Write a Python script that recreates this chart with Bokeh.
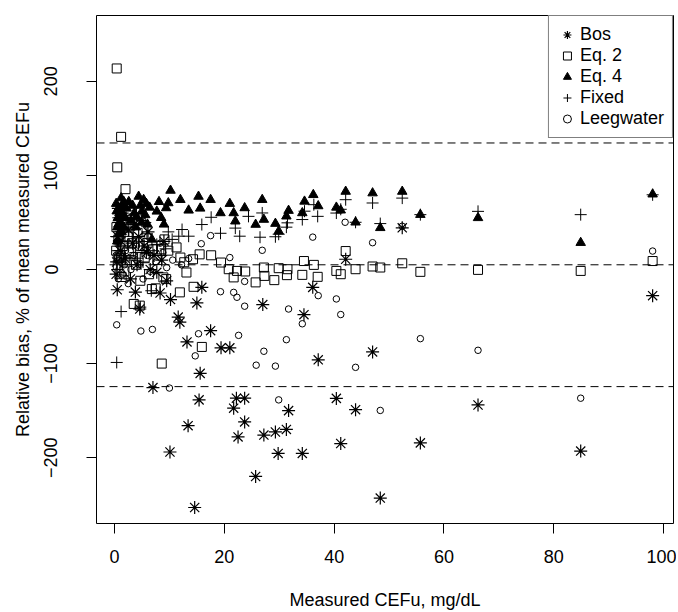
from bokeh.plotting import figure
from bokeh.models import Span, Legend, LegendItem, FixedTicker, Range1d
from bokeh.embed import file_html
from bokeh.resources import INLINE

# ---- data ----
bos_x = [0.4, 0.5, 0.6, 0.8, 1.0, 1.4, 1.9, 2.6, 3.3, 3.8, 4.1, 4.6, 5.0, 5.8, 6.5,
         7.0, 7.7, 8.3, 8.6, 9.5, 10.1, 10.2, 11.6, 11.9, 13.2, 13.4, 14.6, 15.0, 15.4,
         15.6, 15.9, 17.5, 19.4, 21.0, 21.7, 22.2, 22.5, 23.7, 23.7, 25.7, 27.0, 27.2,
         29.3, 29.8, 31.3, 31.7, 34.2, 34.5, 36.1, 37.1, 40.4, 41.2, 42.1, 43.9, 47.0,
         48.4, 52.4, 55.7, 66.2, 84.9, 98.0,
         0.3, 0.7, 1.2, 2.1, 2.9, 3.6, 4.4, 5.4, 6.1, 7.2, 9.0]
bos_y = [8, -21.5, 35, 50, 20, 60, 12, 42, 28, -24, 5, -42, 52, 18, 0,
         -125.5, -3, -25, 10, -12, -194, -32, -50.6, -56, -77, -166, -253, -35.5, -138.6,
         -110.4, -19, -65, -83.3, -83.3, -147.4, -136.8, -178, -136.8, -162, -220, -37.3, -176,
         -172.7, -195.5, -170, -150, -195.5, -48, -19, -96, -137, -185, 10.9, -149, -87.6,
         -243, 44.3, -184.3, -144, -193, -27.8,
         -5, 65, 30, 55, -10, 48, 35, 25, 40, 15, 30]

eq2_x = [0.4, 1.2, 0.5, 2.0, 0.3, 0.6, 0.7, 0.9, 1.1, 1.5, 1.8, 2.4, 2.9, 3.5, 4.2,
         4.6, 4.7, 5.2, 6.0, 6.8, 7.0, 7.5, 8.5, 8.6, 8.9, 9.1, 9.4, 11.3, 11.9, 12.0,
         12.7, 13.1, 14.3, 14.4, 15.5, 15.9, 17.6, 19.4, 20.8, 21.7, 22.3, 23.8, 25.7, 27.2,
         27.3, 29.1, 29.9, 31.5, 31.4, 34.5, 34.2, 36.3, 37.0, 40.4, 41.2, 42.1, 43.9, 47.0,
         48.4, 52.4, 55.7, 66.2, 84.9, 98.0,
         0.35, 0.8, 1.3, 1.7, 2.6, 3.2, 3.9, 5.5, 6.3, 7.8, 9.8]
eq2_y = [213.7, 141, 108.6, 85.4, 20, 5, 32, -5, 15, 25, -2, 35, 10, -36.6, 39,
         -38.4, -12, 25, 28, -20.8, 21.4, -20, 21.4, -100, -8.4, 32, -10.2, 23.5, -24.3, 12.7,
         7.7, -3.2, 10.9, -18.4, 16.1, -82.3, 15.1, 7.4, 0.3, -8.4, -1.5, -2.1, -13.7, 2.1,
         -6.8, -11.3, 1.4, 0.3, -6, 9, -5.7, 4.9, -7.8, -1.5, -5, 19.6, 0.3, 3.2,
         2.1, 6.6, -2.5, -0.4, -1.5, 9,
         45, 12, -8, 40, 18, 28, 5, 12, -5, 10, 20]

eq4_x = [0.4, 0.5, 0.6, 0.8, 0.9, 1.1, 1.2, 1.5, 1.8, 2.2, 3.0, 3.6, 4.4, 4.7, 5.3,
         5.6, 6.0, 6.8, 7.7, 8.5, 9.4, 9.8, 10.2, 12.0, 13.5, 15.3, 15.6, 17.5, 19.3, 21.0,
         21.7, 22.0, 23.7, 25.7, 26.9, 27.2, 29.3, 29.9, 31.3, 31.7, 34.2, 34.6, 36.2, 37.1,
         40.4, 41.2, 42.1, 43.9, 47.0, 48.4, 52.4, 55.7, 66.2, 84.9, 98.0,
         0.3, 0.7, 1.0, 1.4, 2.0, 2.6, 3.3, 4.0, 5.0, 6.4, 8.1, 9.0,
         0.5, 1.3, 1.7, 3.9, 4.9, 5.8]
eq4_y = [62, 45, 55, 38, 60, 50, 76, 58, 44, 65, 52, 60, 77.6, 68, 74.2,
         58, 48, 32, 61.8, 55, 65.4, 70.7, 84, 74.2, 62.9, 77.6, 65, 74.2, 60.1, 70,
         60.1, 51.3, 65.4, 47.8, 74.2, 53.1, 48.8, 40.7, 56.6, 62.6, 60.1, 72.4, 79.4, 67.5,
         66, 63, 82.9, 50.2, 81.2, 44.3, 82.9, 58.3, 54.9, 28.5, 80,
         70, 48, 65, 68, 55, 72, 68, 56, 62, 66, 72, 48,
         30, 40, 72, 45, 50, 70]

fixed_x = [0.4, 0.5, 0.6, 0.8, 1.0, 1.2, 1.3, 1.6, 2.0, 2.5, 3.0, 3.8, 4.5, 4.7, 5.2,
           5.6, 6.7, 7.7, 8.5, 9.3, 10.5, 11.7, 12.3, 13.5, 15.9, 17.6, 19.3, 22.0, 22.8,
           24.4, 26.9, 26.5, 29.3, 29.9, 31.5, 31.3, 34.2, 34.6, 36.3, 37.0, 40.4, 41.2,
           42.1, 43.9, 47.0, 48.4, 52.4, 55.7, 66.2, 84.9, 98.0,
           0.3, 0.7, 1.1, 1.5, 1.9, 2.8, 3.4, 4.2, 5.9, 7.0, 9.8,
           0.9, 2.3, 4.0, 5.0]
fixed_y = [-98.8, 0, 20, 30, 8, -44.7, 15, 40, 12, 25, 45, 18, 30, -40, 8,
           50, -22.6, 26.7, 15, 22, 32, 35.4, 42.5, 35.4, 47.8, 55.5, 38.5, 44, 35.4,
           56.5, 60.1, 34.3, 34.8, 37.5, 49.6, 45, 53.1, 62, 68.9, 56.5, 60, 64,
           74.2, 50.2, 70.7, 48.8, 75.9, 58.3, 61.8, 58.3, 79.4,
           35, 55, 25, 5, 30, 10, 35, 12, 38, 20, 40,
           62, 48, 58, 20]

leeg_x = [0.4, 0.5, 0.8, 1.2, 1.5, 2.0, 3.0, 4.0, 4.8, 5.2, 6.0, 6.9, 7.6, 8.3, 9.5,
          10.0, 10.6, 12.2, 13.5, 14.7, 15.3, 15.8, 17.5, 19.3, 21.0, 21.7, 22.3, 22.6,
          23.7, 23.7, 25.8, 26.9, 27.2, 29.3, 29.9, 31.3, 31.7, 34.2, 36.1, 37.1, 40.4,
          41.2, 42.0, 43.9, 47.0, 48.4, 52.4, 55.7, 66.2, 84.9, 98.0,
          0.3, 0.7, 1.0, 1.8, 2.5, 3.5, 4.5, 5.5, 6.5, 8.8]
leeg_y = [-58.8, 30, 10, 45, -5, 20, 0, 25, -65.4, -10, 15, -63.7, 8, 28, 2,
          -126, 10, 5, 11.6, -91.8, -68.3, 27.4, 36, -23.6, 12.7, -24.3, -29.5, -70,
          -39, -12.7, -101.7, 20.4, -86.9, -102.7, -138.6, -74.6, -42, -57.7, 34.4, -27.8, -31.3,
          -47.9, 50.2, -104, 28.5, -149.8, 46, -73.5, -85.9, -136.8, 19.6,
          15, -10, 35, 5, -15, 15, 5, 30, -2, 18]

bias_mean = 5.0
loa_upper = 134.5
loa_lower = -124.5

series_labels = ["Bos", "Eq. 2", "Eq. 4", "Fixed", "Leegwater"]
x_ticks = [0, 20, 40, 60, 80, 100]
y_ticks = [-200, -100, 0, 100, 200]

FONT = "Liberation Sans"

p = figure(width=676, height=612, output_backend="svg", toolbar_location=None,
           x_range=Range1d(-3.28, 101.8), y_range=Range1d(-270, 270),
           min_border_left=96, min_border_right=3, min_border_top=15, min_border_bottom=85,
           background_fill_color="white", border_fill_color="white")
p.grid.visible = False
p.outline_line_color = "black"
p.outline_line_width = 1

for loc in (loa_upper, bias_mean, loa_lower):
    p.add_layout(Span(location=loc, dimension="width", line_color="black",
                      line_width=1, line_dash="8 5"))

r_bos = p.scatter(bos_x, bos_y, marker="asterisk", size=13, line_color="black", line_width=1.2)
r_eq2 = p.scatter(eq2_x, eq2_y, marker="square", size=9, line_color="black",
                  fill_color=None, line_width=1)
r_eq4 = p.scatter(eq4_x, eq4_y, marker="triangle", size=9.5, line_color="black",
                  fill_color="black", line_width=1)
r_fix = p.scatter(fixed_x, fixed_y, marker="cross", size=12, line_color="black", line_width=1)
r_lee = p.scatter(leeg_x, leeg_y, marker="circle", size=6.5, line_color="black",
                  fill_color=None, line_width=1)

for ax, ticks, bounds in ((p.xaxis[0], x_ticks, (0, 100)), (p.yaxis[0], y_ticks, (-200, 200))):
    ax.ticker = FixedTicker(ticks=ticks)
    ax.bounds = bounds
    ax.minor_tick_line_color = None
    ax.major_tick_in = 0
    ax.major_tick_out = 10
    ax.axis_line_color = "black"
    ax.major_tick_line_color = "black"
    ax.major_label_text_font = FONT
    ax.major_label_text_font_size = "18px"
    ax.major_label_text_color = "black"
    ax.axis_label_text_font = FONT
    ax.axis_label_text_font_size = "18px"
    ax.axis_label_text_font_style = "normal"
    ax.axis_label_text_color = "black"

p.xaxis.axis_label = "Measured CEFu, mg/dL"
p.yaxis.axis_label = "Relative bias, % of mean measured CEFu"
p.xaxis.major_label_standoff = 16
p.xaxis.axis_label_standoff = 24
p.yaxis.major_label_standoff = 29
p.yaxis.axis_label_standoff = 9
p.yaxis.major_label_orientation = "vertical"
p.yaxis.major_label_overrides = {t: ("\u2212" + str(-t)) for t in y_ticks if t < 0}

legend = Legend(items=[LegendItem(label=l, renderers=[r])
                       for l, r in zip(series_labels, [r_bos, r_eq2, r_eq4, r_fix, r_lee])],
                location="top_right", margin=0, padding=8, spacing=0,
                glyph_width=20, glyph_height=21, label_height=21, label_standoff=3,
                label_text_font=FONT, label_text_font_size="18px", label_text_color="black",
                border_line_color="black", border_line_width=1,
                background_fill_color="white", background_fill_alpha=1)
p.add_layout(legend)

open("out.html", "w").write(file_html(p, INLINE))
